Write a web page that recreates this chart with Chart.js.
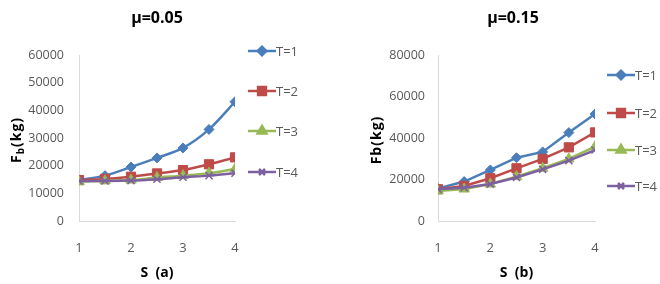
<!DOCTYPE html>
<html>
<head>
<meta charset="utf-8">
<script src="https://cdn.jsdelivr.net/npm/chart.js@4.4.0/dist/chart.umd.min.js"></script>
<style>
  body { margin: 0; background: #fff; }
  #wrap { position: relative; width: 660px; height: 284px; }
  canvas { position: absolute; top: 0; }
  #chart_a { left: 0; }
  #chart_b { left: 330px; }
</style>
</head>
<body>
<div id="wrap">
  <canvas id="chart_a" width="330" height="284"></canvas>
  <canvas id="chart_b" width="330" height="284"></canvas>
</div>
<script>
var sValues = [1, 1.5, 2, 2.5, 3, 3.5, 4]
var seriesLabels = ['T=1', 'T=2', 'T=3', 'T=4']

// mu = 0.05
var fbA_T1 = [14800, 16400, 19500, 22800, 26400, 33100, 43100]
var fbA_T2 = [14800, 15200, 16000, 17200, 18400, 20500, 23000]
var fbA_T3 = [14200, 14500, 14800, 15700, 16400, 17300, 18800]
var fbA_T4 = [14500, 14500, 14600, 15100, 15800, 16400, 17300]

// mu = 0.15
var fbB_T1 = [15700, 19000, 24600, 30500, 33300, 42600, 51600]
var fbB_T2 = [15300, 16900, 20600, 25400, 29900, 35500, 42700]
var fbB_T3 = [14500, 15400, 17800, 21400, 25400, 29900, 35800]
var fbB_T4 = [15300, 16000, 17800, 21000, 24900, 29100, 34200]

var yTicksA = [0, 10000, 20000, 30000, 40000, 50000, 60000]
var yTicksB = [0, 20000, 40000, 60000, 80000]

var cores = ['#4a7ebb', '#be4b48', '#98b954', '#7d60a0']
var markers = ['rectRot', 'rect', 'triangle', 'crossRot']
var markerSize = [5, 6.5, 6, 5]

var fontFamily = "'Open Sans', sans-serif"
var boldFamily = "'Open Sans', 'Liberation Sans', sans-serif"

function toPoints(values) {
    return values.map(function(v, i) { return { x: sValues[i], y: v } })
}

function buildDatasets(series, smooth) {
    return series.map(function(values, index) {
        return {
            label: seriesLabels[index],
            data: toPoints(values),
            borderColor: cores[index],
            backgroundColor: cores[index],
            borderWidth: 2.5,
            pointStyle: markers[index],
            pointRadius: markerSize[index],
            pointBorderWidth: index == 3 ? 1.5 : 1,
            fill: false,
            cubicInterpolationMode: smooth ? 'monotone' : 'default',
            tension: 0,
            order: 3 - index
        }
    })
}

// titles and the legend are drawn here
var decorPlugin = {
    id: 'decor',
    afterDraw: function(chart, args, opts) {
        var ctx = chart.ctx
        var area = chart.chartArea
        ctx.save()

        ctx.fillStyle = '#000'
        ctx.textAlign = 'center'
        ctx.textBaseline = 'middle'
        ctx.font = 'bold 16px ' + boldFamily
        ctx.fillText(opts.title, opts.titleX, 18)

        // y title, rotated
        ctx.save()
        ctx.translate(opts.yTitleX, (area.top + area.bottom) / 2 + 2)
        ctx.rotate(-Math.PI / 2)
        ctx.font = 'bold 14px ' + boldFamily
        ctx.letterSpacing = '1px'
        var w1 = ctx.measureText('F').width
        ctx.font = 'bold 10px ' + boldFamily
        var w2 = opts.yTitleSub ? ctx.measureText(opts.yTitleSub).width : 0
        ctx.font = 'bold 14px ' + boldFamily
        var w3 = ctx.measureText(opts.yTitleRest).width
        var start = -(w1 + w2 + w3) / 2
        ctx.textAlign = 'left'
        ctx.fillText('F', start, 0)
        if (opts.yTitleSub) {
            ctx.font = 'bold 10px ' + boldFamily
            ctx.fillText(opts.yTitleSub, start + w1, 4)
        }
        ctx.font = 'bold 14px ' + boldFamily
        ctx.fillText(opts.yTitleRest, start + w1 + w2, 0)
        ctx.restore()

        // legend
        chart.data.datasets.forEach(function(ds, i) {
            var y = opts.legendY[i]
            var x0 = opts.legendX
            ctx.strokeStyle = ds.borderColor
            ctx.lineWidth = 2.5
            ctx.beginPath()
            ctx.moveTo(x0, y)
            ctx.lineTo(x0 + 28, y)
            ctx.stroke()
            ctx.fillStyle = ds.backgroundColor
            Chart.helpers.drawPoint(ctx, {
                pointStyle: ds.pointStyle,
                radius: ds.pointRadius * 0.85,
                borderWidth: ds.pointBorderWidth,
                rotation: 0
            }, x0 + 14, y)
            ctx.fillStyle = '#595959'
            ctx.textAlign = 'left'
            ctx.font = '13px ' + fontFamily
            ctx.fillText(ds.label, x0 + 28, y + 1)
        })
        ctx.restore()
    }
}

function makeChart(id, series, smooth, yMax, yTicks, info) {
    var ctx = document.getElementById(id)
    return new Chart(ctx, {
        type: 'line',
        data: { datasets: buildDatasets(series, smooth) },
        plugins: [decorPlugin],
        options: {
            responsive: false,
            animation: false,
            layout: { padding: { left: 0, right: info.padRight, top: 55, bottom: 0 } },
            plugins: {
                legend: { display: false },
                tooltip: { enabled: false },
                decor: info
            },
            scales: {
                x: {
                    type: 'linear',
                    min: 1,
                    max: 4,
                    grid: { display: false, drawTicks: false },
                    border: { display: true, color: '#d9d9d9', width: 1 },
                    ticks: {
                        stepSize: 1,
                        padding: 19,
                        color: '#595959',
                        font: { family: fontFamily, size: 13 },
                        callback: function(value) { return String(value) }
                    },
                    title: {
                        display: true,
                        text: info.xTitle,
                        color: '#000',
                        padding: { top: 0, bottom: 3 },
                        font: { family: boldFamily, size: 14, weight: 'bold' }
                    },
                    afterFit: function(scale) { scale.height = 63 }
                },
                y: {
                    min: 0,
                    max: yMax,
                    grid: { display: false, drawTicks: false },
                    border: { display: true, color: '#d9d9d9', width: 1 },
                    afterBuildTicks: function(scale) {
                        scale.ticks = yTicks.map(function(v) { return { value: v } })
                    },
                    ticks: {
                        padding: info.yPad,
                        color: '#595959',
                        font: { family: fontFamily, size: 12.5 },
                        callback: function(value) { return String(value) }
                    },
                    afterFit: function(scale) { scale.width = info.yWidth }
                }
            }
        }
    })
}

makeChart('chart_a', [fbA_T1, fbA_T2, fbA_T3, fbA_T4], true, 60000, yTicksA, {
    title: 'μ=0.05', titleX: 157,
    yTitleSub: 'b', yTitleRest: '(kg)', yTitleX: 17,
    xTitle: 'S  (a)',
    legendX: 248, legendY: [51, 91, 131, 172],
    padRight: 95, yWidth: 79, yPad: 15
})

makeChart('chart_b', [fbB_T1, fbB_T2, fbB_T3, fbB_T4], false, 80000, yTicksB, {
    title: 'μ=0.15', titleX: 183,
    yTitleSub: '', yTitleRest: 'b(kg)', yTitleX: 47,
    xTitle: 'S  (b)',
    legendX: 277, legendY: [75, 113, 150, 186],
    padRight: 65, yWidth: 108, yPad: 13
})
</script>
</body>
</html>
